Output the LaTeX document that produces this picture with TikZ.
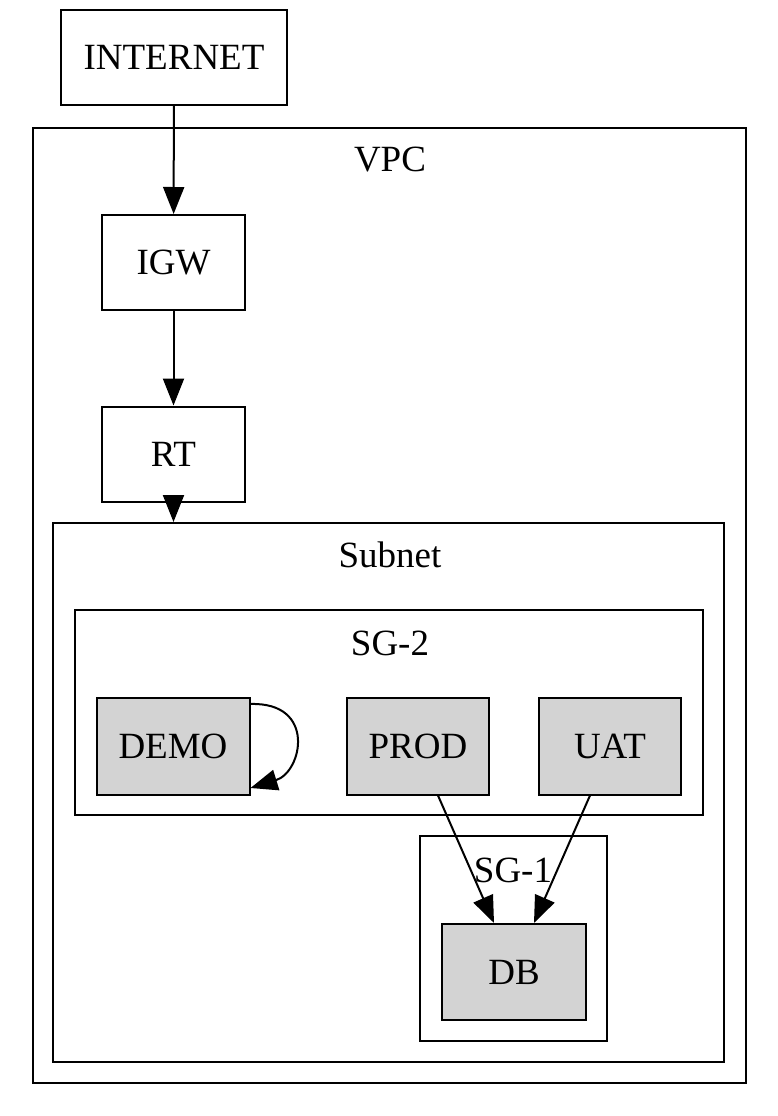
\documentclass[tikz,border=0pt]{standalone}
\usepackage{fontspec}
\setmainfont{Liberation Serif}
\usetikzlibrary{arrows.meta}
\definecolor{gvgray}{RGB}{211,211,211}
\begin{document}
\begin{tikzpicture}[x=1bp,y=-1bp,
  every node/.style={font=\fontsize{37bp}{44bp}\selectfont, inner sep=0pt},
  box/.style={draw, line width=2bp, minimum width=#1},
  box/.default=143bp,
  plainbox/.style={box=#1, minimum height=95bp},
  graybox/.style={box=#1, minimum height=97bp, fill=gvgray},
  cluster/.style={draw, line width=2bp},
  lbl/.style={},
  arr/.style={line width=2bp, -{Triangle[length=27bp,width=21bp]}}
]
\useasboundingbox (0,0) rectangle (778,1116);
% clusters
\node[cluster, minimum width=713bp, minimum height=955bp] (vpc) at (389.5,605.5) {};
\node[lbl] (vpclbl) at (390,160) {VPC};
\node[cluster, minimum width=671bp, minimum height=539bp] (subnet) at (388.5,792.5) {};
\node[lbl] (subnetlbl) at (390,555) {Subnet};
\node[cluster, minimum width=628bp, minimum height=205bp] (sg2) at (389,712.5) {};
\node[lbl] (sg2lbl) at (390,643) {SG-2};
\node[cluster, minimum width=187bp, minimum height=205bp] (sg1) at (513.5,938.5) {};
% nodes
\node[plainbox=226bp] (internet) at (174,57.5) {INTERNET};
\node[plainbox] (igw) at (173.5,262.5) {IGW};
\node[plainbox] (rt) at (173.5,454) {RT};
\node[graybox=153bp] (demo) at (173,746) {DEMO};
\node[graybox=142bp] (prod) at (418,746) {PROD};
\node[graybox=142bp] (uat) at (610,746) {UAT};
\node[graybox=144bp, minimum height=96bp] (db) at (514,972) {DB};
\node[lbl] (sg1lbl) at (513,870) {SG-1};
% edges
\draw[arr] (internet) -- (igw);
\draw[arr] (igw) -- (rt);
\draw[arr] (rt) -- (rt |- subnet.north);
\draw[arr] ([xshift=20bp]prod.south) -- ([xshift=-20bp]db.north);
\draw[arr] ([xshift=-20bp]uat.south) -- ([xshift=20bp]db.north);
\draw[arr] ([yshift=42bp]demo.east) .. controls +(66,-2) and +(52,-16) .. ([yshift=-42bp]demo.east);
\end{tikzpicture}
\end{document}
